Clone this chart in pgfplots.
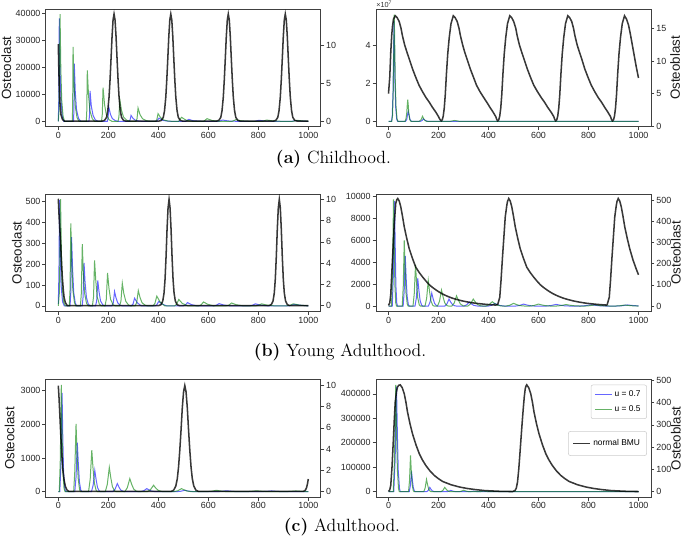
\documentclass[border=0pt]{standalone}
\usepackage{pgfplots}
\pgfplotsset{compat=1.18}
\usepackage{fontspec}
\newfontfamily\sans{Liberation Sans}
\definecolor{mgreen}{RGB}{0,128,0}
\newcommand\tlfont{\sans\fontsize{6.7}{7.5}\selectfont}
\newcommand\lbfont{\sans\fontsize{10}{12}\selectfont}
\pgfplotsset{
  base/.style={scale only axis, width=206.25pt, height=88.1pt, xmin=-50, xmax=1050,
    tick align=outside, major tick length=2.6pt, scaled ticks=false,
    tick style={black!75, line width=0.5pt},
    axis line style={black!75, line width=0.6pt},
    tick label style={font=\tlfont, text=black!85, inner sep=1.2pt},
    label style={font=\lbfont, text=black!90},
    every axis plot/.append style={mark=none}},
  leftax/.style={base, tick pos=left, xtick={0,200,400,600,800,1000}, xticklabels={0,200,400,600,800,1000}},
  rightax/.style={base, axis y line*=right, axis x line=none},
  bl/.style={blue, draw opacity=0.6, line width=0.75pt},
  gr/.style={mgreen, draw opacity=0.6, line width=0.75pt},
  bk/.style={black, draw opacity=0.78, line width=1.15pt},
}
\begin{document}
\begin{tikzpicture}
\path[use as bounding box] (0,0) rectangle (513.75pt,404.25pt);
%================ (a) left
\begin{axis}[leftax, at={(34.35pt,309.2pt)}, ymin=-1980, ymax=41500,
  ytick={0,10000,20000,30000,40000}, yticklabels={0,10000,20000,30000,40000},
  ylabel={Osteoclast}, ylabel style={at={(axis description cs:-0.143,0.5)}, anchor=center}]
\addplot[bl] coordinates {(0,0)(2,8000)(4,38100)(7,19000)(11,7600)(16,1900)(22,0)
(61,0)(62.5,4600)(64,21400)(68,10700)(73,4280)(81,1070)(90,0)
(122.5,0)(125,2400)(127,11300)(132,5650)(139,2260)(148,565)(159,0)
(196,0)(199,1150)(202,5300)(208.5,2650)(216,1060)(228,265)(241,0)
(283,0)(287,470)(291,2200)(299,1100)(308,440)(322,110)(338,0)
(393,0)(403,1200)(418,360)(441,60)(460,0)
(509,0)(522,740)(540,220)(580,0)
(642,0)(657,500)(680,150)(720,0)
(785,0)(802,400)(828,120)(870,0)
(933,0)(950,300)(975,90)(1000,20)};
\addplot[gr] coordinates {(0,0)(3,4000)(7,39700)(10,19850)(13.6,7940)(19,1985)(25,0)
(56,0)(57.5,6000)(59,27600)(63,13800)(68,5520)(75,1380)(83,0)
(112,0)(114,4000)(116,18900)(121,9450)(127,3780)(136,945)(146,0)
(173,0)(176,2700)(179,12500)(185,6250)(192,2500)(203,625)(215,0)
(239,0)(242.5,1700)(246,8000)(253,4000)(261,1600)(274,400)(288,0)
(311,0)(315,1050)(319,4950)(327,2475)(337,990)(352,250)(369,0)
(389,0)(394,600)(399,2850)(409,1425)(420,570)(438,140)(458,0)
(481,0)(493,1500)(511,450)(538,0)
(581,0)(595,1000)(616,300)(647,0)
(695,0)(710,600)(735,180)(770,0)
(817,0)(833,500)(860,150)(900,0)
(938,0)(955,400)(980,120)(1000,40)};
\end{axis}
\begin{axis}[rightax, at={(34.35pt,309.2pt)}, ymin=-0.74, ymax=14.83, ytick={0,5,10}, yticklabels={0,5,10}]
\addplot[bk] coordinates {(0,10.2)(2,7)(4,4.5)(7,2.2)(11,0.8)(17,0.2)(25,0)
(175,0)(185,0.1)(193,0.5)(198,1.4)(203,3.2)(207,5.5)(211,8.3)(215,11.2)(219,13.4)(223,14.2)(227,13.4)(231,11.2)(235,8.3)(239,5.5)(243,3.2)(248,1.4)(253,0.5)(261,0.1)(271,0)
(402,0)(412,0.1)(420,0.5)(425,1.4)(430,3.2)(434,5.5)(438,8.3)(442,11.2)(446,13.4)(450,14.2)(454,13.4)(458,11.2)(462,8.3)(466,5.5)(470,3.2)(475,1.4)(480,0.5)(488,0.1)(498,0)
(632,0)(642,0.1)(650,0.5)(655,1.4)(660,3.2)(664,5.5)(668,8.3)(672,11.2)(676,13.4)(680,14.2)(684,13.4)(688,11.2)(692,8.3)(696,5.5)(700,3.2)(705,1.4)(710,0.5)(718,0.1)(728,0)
(860,0)(870,0.1)(878,0.5)(883,1.4)(888,3.2)(892,5.5)(896,8.3)(900,11.2)(904,13.4)(908,14.2)(912,13.4)(916,11.2)(920,8.3)(924,5.5)(928,3.2)(933,1.4)(938,0.5)(946,0.1)(956,0)(1000,0)};
\end{axis}
%================ (a) right
\begin{axis}[leftax, name=aR, at={(282pt,309.2pt)}, ymin=-0.28, ymax=5.91, ytick={0,2,4}, yticklabels={0,2,4}]
\addplot[bl] coordinates {(0,0)(12,0)(15,0.3)(18,1.5)(20,3.3)(22,5.3)(24,3.8)(26,2.0)(29,0.7)(33,0.1)(37,0)
(68,0)(73,0.1)(76,0.35)(79,0.53)(82,0.35)(86,0.1)(92,0)
(126,0)(134,0.04)(140,0.14)(147,0.05)(158,0)(1000,0)};
\addplot[gr] coordinates {(0,0)(13,0)(16,0.3)(19,1.6)(21,3.6)(23,5.63)(25,4.0)(27,2.2)(30,0.8)(34,0.15)(38,0)
(66,0)(70,0.15)(73,0.45)(75,0.85)(77,1.15)(79,0.85)(81,0.45)(85,0.1)(90,0)
(122,0)(130,0.08)(136,0.27)(142,0.1)(152,0)
(245,0)(265,0.05)(285,0)(1000,0)};
\end{axis}
\begin{axis}[rightax, at={(282pt,309.2pt)}, ymin=-0.05, ymax=17.9, ytick={0,5,10,15}, yticklabels={0,5,10,15},
  ylabel={Osteoblast}, ylabel style={at={(axis description cs:1.088,0.5)}, anchor=center}]
\addplot[bk] coordinates {(0,5.0)(5,7.5)(9,11.3)(13,14)(16,15.3)(20,16.4)(27,16.9)(35,16.6)(43,16)(50,15)(56,13.8)(65,12.4)(75,11.2)(83,10.3)(96,8.8)(109,7.5)(122,6.3)(136,5.3)(150,4.4)(163,3.7)(176,2.9)(189,2.2)(200,1.5)(206,1.05)(211,0.85)
(215,1.0)(219,1.6)(223,2.8)(227,4.8)(232,8.2)(237,11.1)(243,13.6)(250,15.7)(259,16.9)
(267,16.6)(275,16)(282,15)(288,13.8)(297,12.4)(306,11.2)(314,10.3)(327,8.8)(340,7.5)(352,6.3)(366,5.3)(381,4.4)(393,3.7)(406,2.9)(418,2.2)(429,1.5)(433,1.05)(437,0.85)
(441,1.0)(445,1.6)(449,2.8)(453,4.8)(458,8.2)(463,11.1)(469,13.6)(476,15.7)(485,16.9)
(493,16.6)(501,16)(509,15)(515,13.8)(524,12.4)(534,11.2)(542,10.3)(555,8.8)(568,7.5)(581,6.3)(596,5.3)(611,4.4)(624,3.7)(637,2.9)(650,2.2)(661,1.5)(665,1.05)(669,0.85)
(673,1.0)(677,1.6)(681,2.8)(685,4.8)(690,8.2)(695,11.1)(701,13.6)(708,15.7)(717,16.9)
(725,16.6)(733,16)(740,15)(746,13.8)(755,12.4)(765,11.2)(773,10.3)(785,8.8)(798,7.5)(811,6.3)(825,5.3)(839,4.4)(852,3.7)(865,2.9)(877,2.2)(888,1.5)(892,1.05)(896,0.85)
(900,1.0)(904,1.6)(908,2.8)(912,4.8)(917,8.2)(922,11.1)(928,13.6)(935,15.7)(944,16.9)
(952,16.4)(960,15.5)(967,14.2)(975,12.5)(983,10.8)(991,9.1)(1000,7.4)};
\end{axis}
\node[anchor=south west, inner sep=0pt, font=\sans\fontsize{5.5}{6}\selectfont, text=black!80] at ([yshift=1.2pt]aR.north west) {×10\textsuperscript{7}};
\node[font=\fontsize{13.3}{15}\selectfont] at (250.1pt,284.6pt) {\textbf{(a)} Childhood.};
%================ (b) left
\begin{axis}[leftax, at={(34.35pt,170.6pt)}, ymin=-27, ymax=537,
  ytick={0,100,200,300,400,500}, yticklabels={0,100,200,300,400,500},
  ylabel={Osteoclast}, ylabel style={at={(axis description cs:-0.105,0.5)}, anchor=center}]
\addplot[bl] coordinates {(0,10)(2.5,150)(5,508)(8,280)(11,100)(17,20)(24,0)
(47,0)(50,66)(53,330)(57,182)(61.5,66)(68,13)(74,0)
(95.5,0)(99,41)(103,207)(107,114)(112.5,41)(120,8)(127,0)
(149,0)(153.5,24)(158,122)(163,67)(169,24)(178,5)(186,0)
(214,0)(220,14)(225,69)(231,38)(238,14)(248,3)(257,0)
(292,0)(299,9)(305,37)(316,15)(332,0)
(387,0)(394,5.5)(402,22)(415,9)(434,0)
(499,0)(508,4)(517,16)(532,6.4)(555,0)
(622,0)(632,3)(643,11)(661,4.4)(688,0)
(764,0)(776,2.5)(788,10)(808,4)(840,0)
(920,0)(945,7)(970,3)(1000,0)};
\addplot[gr] coordinates {(0,0)(4,60)(6,200)(9,513)(12,280)(15,100)(21,20)(28,0)
(44,0)(47,79)(50,396)(53.6,218)(58,79)(64.5,16)(70,0)
(88.5,0)(92,59)(96,296)(100,163)(105.4,59)(113,12)(120,0)
(136.5,0)(141,44)(145,218)(150,120)(155.5,44)(164,9)(172,0)
(187,0)(192,32)(197,158)(202.5,87)(209,32)(219,6)(228,0)
(245,0)(250.5,22)(256,109)(262,60)(270,22)(281,4)(291,0)
(307,0)(313.5,15)(320,73)(327,40)(335,15)(348,3)(359,0)
(379,0)(386.5,12)(394,47)(407,19)(426,0)
(465,0)(473.5,8)(482,31)(496,12)(518,0)
(561.5,0)(571,5)(581,19)(597,8)(622,0)
(671,0)(682,3.5)(693,14)(712,5.6)(740,0)
(788,0)(800,2.5)(813,10)(834,4)(866,0)
(912,0)(926,2.5)(940,10)(964,4)(1000,0)};
\end{axis}
\begin{axis}[rightax, at={(34.35pt,170.6pt)}, ymin=-0.55, ymax=10.5, ytick={0,2,4,6,8,10}, yticklabels={0,2,4,6,8,10}]
\addplot[bk] coordinates {(0,10.06)(3,8.5)(6,7.2)(9,6.1)(12,4.5)(16,2.7)(20,1.5)(23,0.8)(28,0.3)(36,0)
(401,0)(411,0.1)(418,0.45)(423,1.2)(427,2.5)(431,4.6)(435,7.2)(439,9.2)(443,10)(447,9.2)(451,7.2)(455,4.6)(459,2.5)(463,1.2)(468,0.45)(475,0.1)(485,0)
(842,0)(852,0.1)(859,0.45)(864,1.2)(868,2.5)(872,4.6)(876,7.2)(880,9.2)(884,10)(888,9.2)(892,7.2)(896,4.6)(900,2.5)(904,1.2)(909,0.45)(916,0.1)(926,0)(1000,0)};
\end{axis}
%================ (b) right
\begin{axis}[leftax, at={(282pt,170.6pt)}, ymin=-500, ymax=10250,
  ytick={0,2000,4000,6000,8000,10000}, yticklabels={0,2000,4000,6000,8000,10000}]
\addplot[bl] coordinates {(0,0)(15,0)(19.5,2880)(24,9600)(27,5280)(29.5,1920)(33,290)(36,0)
(58.6,0)(62.8,1380)(67,4590)(70.7,2520)(74.4,920)(79.4,140)(83,0)
(106,0)(111.5,760)(117,2540)(121.7,1400)(126.4,510)(132.6,76)(137,0)
(159.4,0)(166.2,360)(173,1190)(178.7,650)(184.4,240)(192,36)(197.7,0)
(225,0)(233.5,190)(242,640)(249,350)(256.4,130)(266,19)(273,0)
(302,0)(312.5,110)(323,360)(331.7,200)(340.4,72)(352,11)(360.7,0)
(399,0)(412,72)(425,240)(436,130)(446.6,48)(461,7)(472,0)
(508,0)(524,54)(540,180)(553,100)(566,36)(583,5)(596,0)
(630,0)(650,45)(670,150)(686,82)(702,30)(722,5)(740,0)
(765,0)(788,36)(810,120)(828,66)(846,24)(870,4)(885,0)
(910,0)(933,30)(955,100)(975,55)(995,20)(1000,15)};
\addplot[gr] coordinates {(0,0)(12,0)(16,2900)(20,9760)(23,5370)(25.5,1950)(29,290)(32,0)
(55,0)(59,1800)(63,6000)(66.6,3300)(70,1200)(75,180)(78.6,0)
(98,0)(103,1130)(108,3760)(112.5,2070)(117,750)(123,110)(127.5,0)
(146,0)(152.5,700)(159,2340)(164.4,1290)(169.8,470)(177,70)(182.4,0)
(196,0)(204,440)(212,1460)(218.6,800)(225,290)(234,44)(240.6,0)
(253,0)(263,280)(272,940)(280,520)(287.6,190)(298,28)(306,0)
(317,0)(328,190)(339,640)(348,350)(357,130)(369,20)(378,0)
(389,0)(402,120)(415,395)(425.5,220)(436,80)(450,12)(460.5,0)
(470,0)(485,75)(500,250)(512,140)(524,50)(540,8)(552,0)
(565,0)(582,54)(600,180)(614,100)(628,36)(647,5)(660,0)
(670,0)(690,42)(710,140)(726,77)(743,28)(765,4)(780,0)
(785,0)(805,33)(825,110)(843,60)(862,22)(885,3)(900,0)
(905,0)(925,27)(945,90)(963,50)(981,18)(1000,3)};
\end{axis}
\begin{axis}[rightax, at={(282pt,170.6pt)}, ymin=-26, ymax=530, ytick={0,100,200,300,400,500}, yticklabels={0,100,200,300,400,500},
  ylabel={Osteoblast}, ylabel style={at={(axis description cs:1.09,0.5)}, anchor=center}]
\addplot[bk] coordinates {(0,3)(5,15)(9,55)(13,152)(18,270)(23,390)(29,486)(33,503)(37,509)(43,497)(49,470)(56,425)(63,375)(73,320)(83,271)(96,225)(109,184)(122,160)(136,138)(150,118)(163,101)(176,88)(189,77)(203,66)(216,57)(236,46)(256,37)(276,30)(296,24)(322,18)(349,13)(389,8)(429,4.5)
(437,8)(445,41)(450,120)(456,232)(462,335)(467,422)(473,475)(476,495)(481,509)
(487,497)(493,470)(500,425)(507,375)(517,320)(527,271)(540,225)(553,184)(566,160)(580,138)(594,118)(607,101)(620,88)(633,77)(647,66)(660,57)(680,46)(700,37)(720,30)(740,24)(766,18)(793,13)(833,8)(873,4.5)
(875,8)(883,41)(888,120)(894,232)(900,335)(905,422)(911,475)(914,495)(919,509)
(925,497)(931,470)(938,425)(945,375)(955,320)(965,271)(978,218)(991,175)(1000,148)};
\end{axis}
\node[font=\fontsize{13.3}{15}\selectfont] at (255pt,140.25pt) {\textbf{(b)} Young Adulthood.};
%================ (c) left
\begin{axis}[leftax, at={(34.35pt,31.35pt)}, ymin=-165, ymax=3320,
  ytick={0,1000,2000,3000}, yticklabels={0,1000,2000,3000},
  ylabel={Osteoclast}, ylabel style={at={(axis description cs:-0.132,0.5)}, anchor=center}]
\addplot[bl] coordinates {(0,0)(6,0)(11,880)(15,2930)(18,1610)(21,590)(26,90)(30,0)
(66,0)(71,435)(76,1450)(80.3,800)(84.5,290)(90,45)(94.5,0)
(132.7,0)(139.4,190)(146,630)(151.4,350)(156.8,126)(164,19)(169.4,0)
(218,0)(227,71)(236,237)(243,130)(249.8,47)(259,7)(266,0)
(330,0)(342,27)(354,90)(363,50)(371.7,18)(383.5,3)(392,0)
(475,0)(490,12)(506,40)(517,22)(529,8)(545,0)
(635,0)(654,7.5)(673,25)(687,14)(701,5)(720,0)
(810,0)(832,6)(853,20)(868,11)(883,4)(905,0)(1000,0)};
\addplot[gr] coordinates {(0,0)(4,0)(8,950)(12,3170)(15,1740)(18,630)(23,95)(27,0)
(61.5,0)(66,600)(71,2010)(75,1100)(79.4,400)(85,60)(89,0)
(121,0)(127.6,370)(134,1230)(139,680)(144.4,250)(151.4,37)(156.6,0)
(188,0)(196,216)(204,720)(210.3,400)(216.6,144)(225,22)(231.3,0)
(266,0)(276,115)(286,385)(293.8,212)(301.6,77)(312,12)(320,0)
(356,0)(368.5,57)(381,190)(390,105)(399.6,38)(412,6)(421,0)
(463,0)(478,27)(493,90)(504,50)(515,18)(530,3)(541,0)
(595,0)(614,12)(633,40)(646,22)(659,8)(677,0)
(750,0)(772,7.5)(793,25)(808,14)(823,5)(845,0)
(905,0)(928,6)(950,20)(967,11)(983,4)(1000,0)};
\end{axis}
\begin{axis}[rightax, at={(34.35pt,31.35pt)}, ymin=-0.55, ymax=10.55, ytick={0,2,4,6,8,10}, yticklabels={0,2,4,6,8,10}]
\addplot[bk] coordinates {(0,10)(3,8.8)(6,7.3)(10,5.3)(14,3.5)(18,2.1)(23,1.1)(28,0.5)(34,0.15)(42,0)
(451,0)(461,0.1)(470,0.5)(476,1.2)(481,2.3)(486,3.9)(491,5.8)(496,7.9)(501,9.4)(506,10)(511,9.4)(516,7.9)(521,5.8)(526,3.9)(531,2.3)(536,1.2)(542,0.5)(551,0.1)(561,0)
(980,0)(988,0.1)(993,0.35)(997,0.75)(1000,1.17)};
\end{axis}
%================ (c) right
\begin{axis}[leftax, at={(282pt,31.35pt)}, ymin=-22500, ymax=458000,
  ytick={0,100000,200000,300000,400000}, yticklabels={0,100000,200000,300000,400000},
  legend style={at={(0.985,0.958)}, anchor=north east, draw=black!20, rounded corners=1.5pt, fill=white,
    font=\sans\fontsize{6.3}{7}\selectfont, inner xsep=2.5pt, inner ysep=2pt, row sep=1.5pt},
  legend cell align=left,
  legend image code/.code={\draw[#1] (0pt,0pt) -- (12.5pt,0pt);}]
\addplot[bl] coordinates {(0,0)(21,0)(26.5,129000)(32,430000)(35.5,236000)(39,86000)(44,13000)(47,0)
(83,0)(87.5,25000)(92,83000)(95.6,45600)(99.2,16600)(104,2500)(107.6,0)
(153,0)(159,5300)(165,17700)(170,9700)(175,3500)(182,530)(187,0)
(233,0)(241,1600)(249,5400)(255.6,3000)(262,1080)(271,160)(277.6,0)
(320,0)(330,600)(340,2000)(348.4,1100)(356.8,400)(368,60)(376,0)(1000,0)};
\addlegendentry{u = 0.7}
\addplot[gr] coordinates {(0,0)(19,0)(24,131000)(29,436600)(32.3,240000)(35.6,87000)(40,13000)(43,0)
(80,0)(84,44400)(88,148000)(91.3,81400)(94.6,29600)(99,4400)(102.3,0)
(141,0)(146.5,15000)(152,50000)(156.5,27500)(161,10000)(167,1500)(171.5,0)
(210,0)(217.5,5300)(225,17700)(231,9700)(237,3500)(245,530)(251,0)
(282,0)(291,1800)(300,6000)(307.5,3300)(315,1200)(325,180)(332.5,0)
(358,0)(369,750)(380,2500)(389,1375)(398,500)(410,75)(419,0)(1000,0)};
\addlegendentry{u = 0.5}
\end{axis}
\begin{axis}[rightax, at={(282pt,31.35pt)}, ymin=-25, ymax=503, ytick={0,100,200,300,400,500}, yticklabels={0,100,200,300,400,500},
  ylabel={Osteoblast}, ylabel style={at={(axis description cs:1.09,0.5)}, anchor=center},
  legend style={at={(0.985,0.562)}, anchor=north east, draw=black!20, rounded corners=1.5pt, fill=white,
    font=\sans\fontsize{6.3}{7}\selectfont, inner xsep=3pt, inner ysep=4pt},
  legend cell align=left,
  legend image code/.code={\draw[#1] (0pt,0pt) -- (12.5pt,0pt);}]
\addplot[bk] coordinates {(0,1)(5,8)(9,28)(14,110)(19,223)(23,320)(27,403)(32,450)(36,470)(41,478)(47,480)(55,467)(63,440)(70,400)(76,358)(86,305)(96,260)(110,210)(123,171)(136,142)(149,118)(166,93)(183,73)(200,58)(216,46)(250,31)(283,21)(316,14)(349,9)(383,5)(416,3)(456,1)(496,0.5)
(506,5)(511,15)(516,43)(521,100)(525,160)(529,223)(534,300)(539,373)(543,425)(547,463)(550,475)(553,480)
(561,467)(569,440)(576,400)(582,358)(592,305)(602,260)(616,210)(629,171)(642,142)(655,118)(672,93)(689,73)(706,58)(722,46)(756,31)(789,21)(822,14)(855,9)(889,5)(922,3)(962,1)(1000,0.5)};
\addlegendentry{normal BMU}
\end{axis}
\node[font=\fontsize{13.3}{15}\selectfont] at (256.5pt,9pt) {\textbf{(c)} Adulthood.};
\end{tikzpicture}
\end{document}
